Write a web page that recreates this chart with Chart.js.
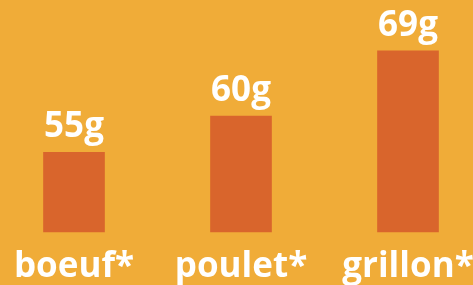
<!DOCTYPE html>
<html>
<head>
<meta charset="utf-8">
<script src="https://cdn.jsdelivr.net/npm/chart.js@4/dist/chart.umd.min.js"></script>
<style>
    html, body { margin: 0; padding: 0; background: #f0ac38; }
    #wrap { width: 473px; height: 285px; }
</style>
</head>
<body>
<div id="wrap"><canvas id="chart" width="473" height="285"></canvas></div>
<script>
// valeurs (protéines pour 100 g)
const categories = ['boeuf*', 'poulet*', 'grillon*'];
const proteines = [55, 60, 69];
const unite = 'g';
// l'axe vertical ne part pas de zéro sur l'infographie
const yMin = 44;
const yMax = 76;

const barColor = '#d9652c';
const labelFont = { family: 'Open Sans', size: 35, weight: 'bold', lineHeight: 1 };

// étiquettes de valeur au-dessus des barres
const valueLabels = {
    id: 'valueLabels',
    afterDatasetsDraw(chart) {
        const ctx = chart.ctx;
        const meta = chart.getDatasetMeta(0);
        ctx.save();
        ctx.fillStyle = '#ffffff';
        ctx.font = 'bold 35px "Open Sans"';
        ctx.textAlign = 'center';
        ctx.textBaseline = 'alphabetic';
        meta.data.forEach((bar, i) => {
            ctx.fillText(proteines[i] + unite, bar.x, bar.y - 15);
        });
        ctx.restore();
    },
};

new Chart(document.getElementById('chart'), {
    type: 'bar',
    data: {
        labels: categories,
        datasets: [{
            data: proteines,
            base: yMin,
            backgroundColor: barColor,
            borderWidth: 0,
            barThickness: 61,
            clip: false,
        }],
    },
    options: {
        responsive: false,
        animation: false,
        layout: { padding: { left: 74, right: 65, top: 0, bottom: 0 } },
        plugins: {
            legend: { display: false },
            tooltip: { enabled: false },
        },
        scales: {
            x: {
                offset: false,
                grid: { display: false, drawTicks: false },
                border: { display: false },
                ticks: { color: '#ffffff', font: labelFont, padding: 18, maxRotation: 0, autoSkip: false },
                afterFit(scale) {
                    // hauteur fixe de la bande des libellés, pas de marge pour les débords
                    scale.height = 53;
                    scale.paddingLeft = 0;
                    scale.paddingRight = 0;
                },
            },
            y: {
                display: false,
                beginAtZero: false,
                min: yMin,
                max: yMax,
            },
        },
    },
    plugins: [valueLabels],
});
</script>
</body>
</html>
